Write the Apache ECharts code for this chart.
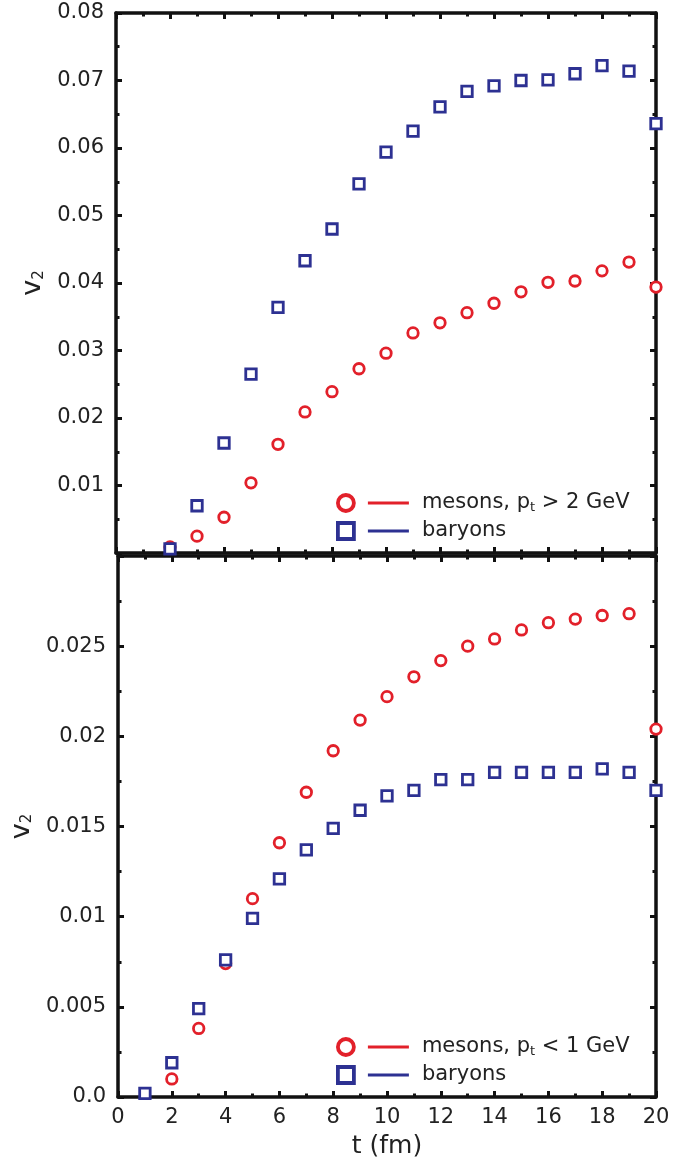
<!DOCTYPE html>
<html lang="en">
<head>
    <meta charset="UTF-8">
    <title>v2 vs t</title>
    <script src="https://cdn.jsdelivr.net/npm/echarts@6/dist/echarts.min.js"></script>
    <style type="text/css">
        html, body { margin: 0; padding: 0; background: #fff; }
        #main { width: 686px; height: 1163px; }
    </style>
</head>
<body>
<div id="main"></div>
<script>
    // top panel, p_t > 2 GeV
    var tTop = [2, 3, 4, 5, 6, 7, 8, 9, 10, 11, 12, 13, 14, 15, 16, 17, 18, 19, 20];
    var mesonsTop = [0.0009, 0.0025, 0.0053, 0.0104, 0.0161, 0.0209, 0.0239, 0.0273, 0.0296, 0.0326,
        0.0341, 0.0356, 0.0370, 0.0387, 0.0401, 0.0403, 0.0418, 0.0431, 0.0394];
    var baryonsTop = [0.0006, 0.0070, 0.0163, 0.0265, 0.0364, 0.0433, 0.0480, 0.0547, 0.0594, 0.0625,
        0.0661, 0.0684, 0.0692, 0.0700, 0.0701, 0.0710, 0.0722, 0.0714, 0.0636];

    // bottom panel, p_t < 1 GeV
    var tMesBot = [2, 3, 4, 5, 6, 7, 8, 9, 10, 11, 12, 13, 14, 15, 16, 17, 18, 19, 20];
    var mesonsBot = [0.0010, 0.0038, 0.0074, 0.0110, 0.0141, 0.0169, 0.0192, 0.0209, 0.0222, 0.0233,
        0.0242, 0.0250, 0.0254, 0.0259, 0.0263, 0.0265, 0.0267, 0.0268, 0.0204];
    var tBarBot = [1, 2, 3, 4, 5, 6, 7, 8, 9, 10, 11, 12, 13, 14, 15, 16, 17, 18, 19, 20];
    var baryonsBot = [0.0002, 0.0019, 0.0049, 0.0076, 0.0099, 0.0121, 0.0137, 0.0149, 0.0159, 0.0167,
        0.0170, 0.0176, 0.0176, 0.0180, 0.0180, 0.0180, 0.0180, 0.0182, 0.0180, 0.0170];

    var xTicks = [0, 2, 4, 6, 8, 10, 12, 14, 16, 18, 20];

    var RED = '#e2202a';
    var BLUE = '#2d3192';
    var INK = '#111';
    var FONT = 'DejaVu Sans';

    function pairs(xs, ys) {
        return xs.map(function (x, i) { return [x, ys[i]]; });
    }

    var legendNames = {
        mesTop: 'mesons, p{sub|t} > 2 GeV',
        barTop: 'baryons',
        mesBot: 'mesons, p{sub|t} < 1 GeV',
        barBot: 'baryons'
    };

    // x axis: bottom (with/without labels) and top (ticks only)
    function xAx(gi, pos, labels) {
        return {
            type: 'value', gridIndex: gi, position: pos,
            min: 0, max: 20, interval: 2,
            axisLine: {show: true, onZero: false, lineStyle: {color: INK, width: 3.5}},
            axisTick: {show: true, inside: true, length: 6, lineStyle: {color: INK, width: 3}},
            minorTick: {show: true, splitNumber: 2, length: 3.5, lineStyle: {color: INK, width: 3}},
            splitLine: {show: false},
            axisLabel: {
                show: labels, margin: 10, color: '#222', fontFamily: FONT, fontSize: 21,
                formatter: function (v) { return xTicks.indexOf(v) >= 0 ? String(v) : ''; }
            },
            name: labels ? 't (fm)' : '',
            nameLocation: 'middle', nameGap: 37,
            nameTextStyle: {color: '#222', fontFamily: FONT, fontSize: 25}
        };
    }

    function yAx(gi, pos, max, step, fmt) {
        return {
            type: 'value', gridIndex: gi, position: pos,
            min: 0, max: max, interval: step,
            axisLine: {show: true, onZero: false, lineStyle: {color: INK, width: 3.5}},
            axisTick: {show: true, inside: true, length: 6, lineStyle: {color: INK, width: 3}},
            minorTick: {show: true, splitNumber: 2, length: 3.5, lineStyle: {color: INK, width: 3}},
            splitLine: {show: false},
            axisLabel: {
                show: !!fmt, margin: 12, color: '#222', fontFamily: FONT, fontSize: 21,
                formatter: fmt || ''
            },
            name: fmt ? '{v|v}{s|2}' : '',
            nameLocation: 'middle', nameGap: 66, nameRotate: 90,
            nameTextStyle: {
                color: '#222', fontFamily: FONT,
                rich: {
                    v: {fontSize: 27, fontFamily: FONT, color: '#222'},
                    s: {fontSize: 15, fontFamily: FONT, color: '#222', padding: [12, 0, 0, 0]}
                }
            }
        };
    }

    function scatter(name, xi, yi, data, sym, color) {
        return {
            name: name, type: 'scatter', xAxisIndex: xi, yAxisIndex: yi,
            symbol: sym, symbolSize: 10.5, clip: false,
            data: data,
            itemStyle: {color: '#fff', borderColor: color, borderWidth: 2.8, opacity: 1},
            z: 5
        };
    }

    function legend(top, names, colors) {
        return {
            orient: 'vertical', left: 331, top: top,
            itemWidth: 16, itemHeight: 16, itemGap: 6,
            selectedMode: false,
            data: [
                {name: names[0], icon: 'circle',
                    itemStyle: {color: '#fff', borderColor: RED, borderWidth: 3.8, opacity: 1}},
                {name: names[1], icon: 'rect',
                    itemStyle: {color: '#fff', borderColor: BLUE, borderWidth: 3.8, opacity: 1}}
            ],
            formatter: function (n) {
                var ln = n.indexOf('mes') === 0 ? '{lr|}' : '{lb|}';
                return '{g1|}' + ln + '{g2|}' + legendNames[n];
            },
            textStyle: {
                color: '#222', fontFamily: FONT, fontSize: 21, lineHeight: 22,
                rich: {
                    g1: {width: 9},
                    g2: {width: 13},
                    lr: {width: 41, height: 3, backgroundColor: RED},
                    lb: {width: 41, height: 3, backgroundColor: BLUE},
                    sub: {fontSize: 13, fontFamily: FONT, color: '#222', padding: [9, 0, 0, 0]}
                }
            }
        };
    }

    var topFmt = function (v) { return v < 1e-9 ? '' : v.toFixed(2); };
    var botFmt = function (v) {
        if (v < 1e-9) return '0.0';
        if (v > 0.0299) return '';
        return String(parseFloat(v.toFixed(3)));
    };

    var chart = echarts.init(document.getElementById('main'), null, {renderer: 'canvas'});
    chart.setOption({
        backgroundColor: '#fff',
        animation: false,
        grid: [
            {left: 116, top: 13, width: 540, height: 540},
            {left: 116, top: 556, width: 540, height: 541}
        ],
        xAxis: [
            xAx(0, 'bottom', false), xAx(0, 'top', false),
            xAx(1, 'bottom', true), xAx(1, 'top', false)
        ],
        yAxis: [
            yAx(0, 'left', 0.08, 0.01, topFmt), yAx(0, 'right', 0.08, 0.01, null),
            yAx(1, 'left', 0.03, 0.005, botFmt), yAx(1, 'right', 0.03, 0.005, null)
        ],
        legend: [
            legend(487, ['mesTop', 'barTop']),
            legend(1031, ['mesBot', 'barBot'])
        ],
        series: [
            scatter('mesTop', 0, 0, pairs(tTop, mesonsTop), 'circle', RED),
            scatter('barTop', 0, 0, pairs(tTop, baryonsTop), 'rect', BLUE),
            scatter('mesBot', 2, 2, pairs(tMesBot, mesonsBot), 'circle', RED),
            scatter('barBot', 2, 2, pairs(tBarBot, baryonsBot), 'rect', BLUE)
        ]
    });
</script>
</body>
</html>
